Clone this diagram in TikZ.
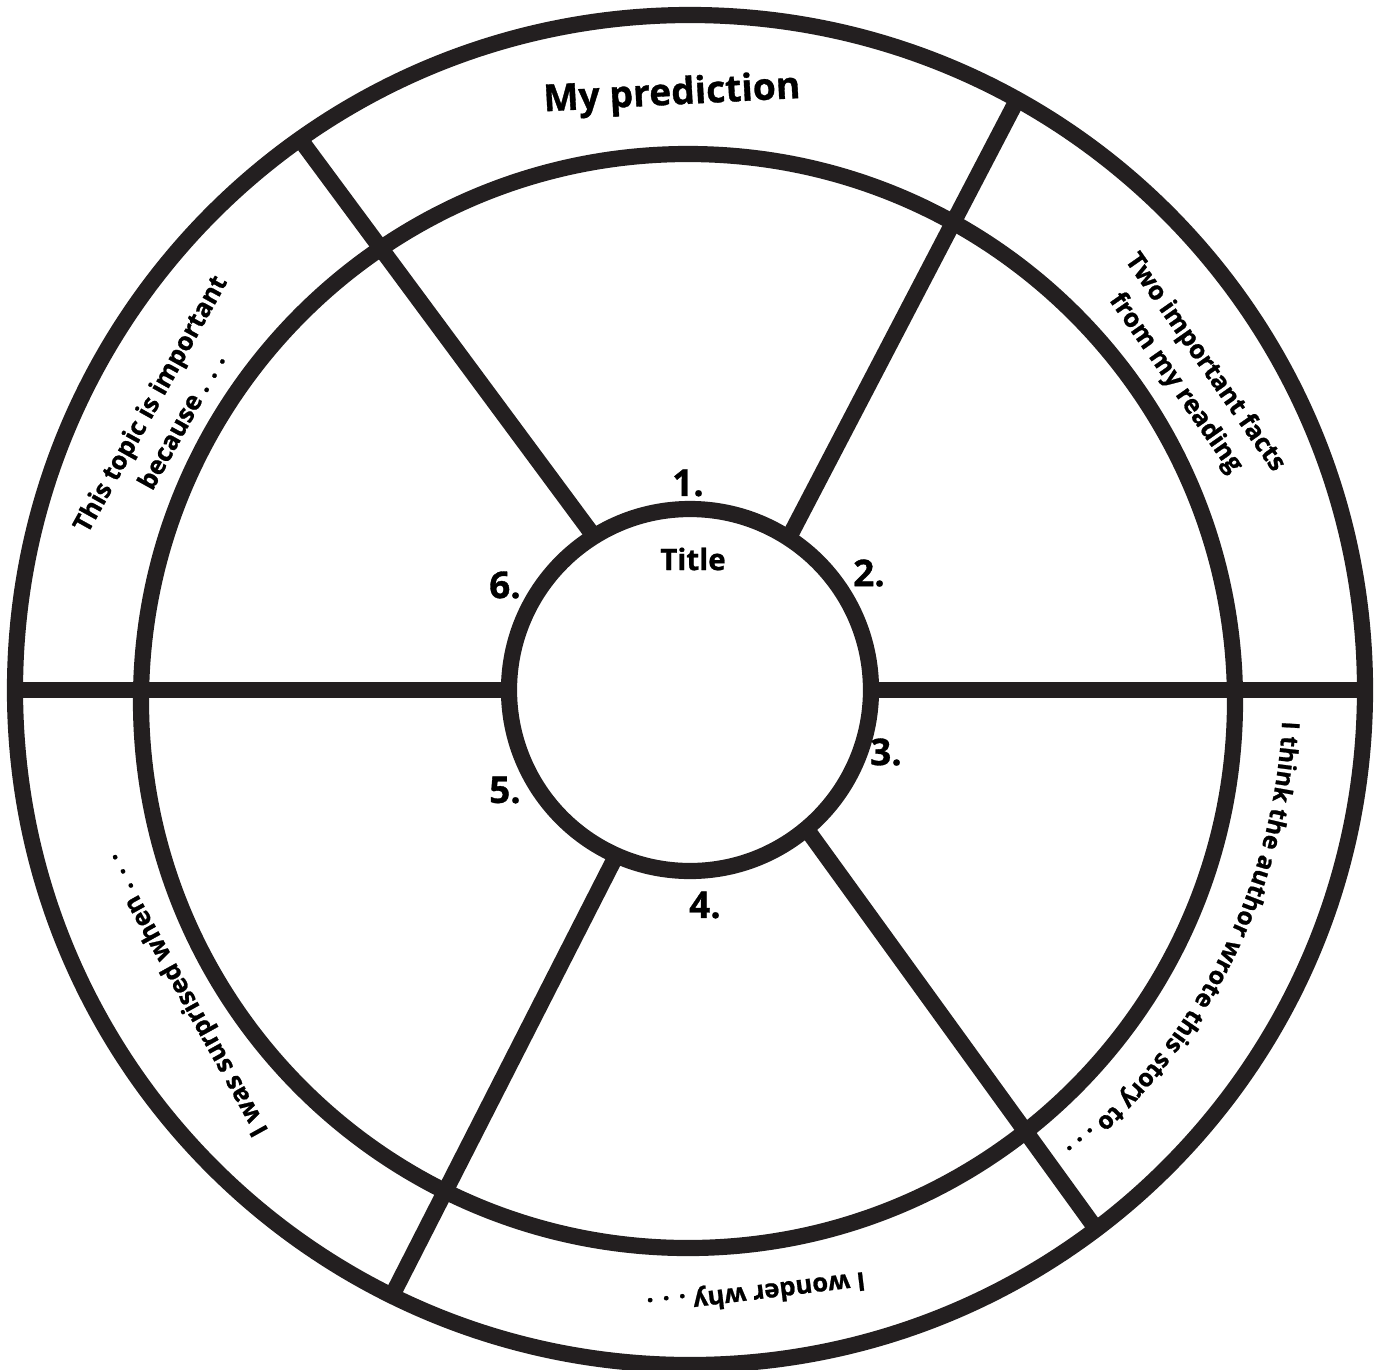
\documentclass[tikz,border=0pt]{standalone}
\usepackage{fontspec}
\setmainfont{Open Sans}[BoldFeatures={FakeBold=0.9}]
\usepackage{xcolor}
\usetikzlibrary{decorations.text}
\definecolor{ink}{HTML}{231F20}
\tikzset{
  ring/.style={draw=ink, line width=4.6pt},
  spoke/.style={draw=ink, line width=4.6pt},
  numtag/.style={font=\fontsize{10.5}{12}\selectfont\bfseries, inner sep=0pt},
  titletag/.style={font=\fontsize{8.4}{10}\selectfont\bfseries, inner sep=0pt},
  headtext/.style={font=\fontsize{10.6}{12}\selectfont\bfseries, inner sep=0pt},
  bandtext/.style={font=\fontsize{7.3}{10.2}\selectfont\bfseries,
                   align=center, inner sep=0pt},
}

\begin{document}
\begin{tikzpicture}[x=0.01cm, y=0.01cm]
\useasboundingbox (-690,-679) rectangle (696,690);

%% Radii (1 unit = 0.01cm)
\def\rOut{675}
\def\rMid{547}
\def\rIn{181}

\coordinate (hub) at (0,0);
\coordinate (midhub) at (-2,-11);

%% Rings
\draw[ring] (hub) circle[radius=\rOut];
\draw[ring] (midhub) circle[radius=\rMid];
\draw[ring] (hub) circle[radius=\rIn];

%% Spokes: angle at inner ring / angle at outer ring
\foreach \a/\b in {122/125.3, 57/61, 0/0, -50/-53, 246/243.8, 180/180}
  \draw[spoke] (\a:\rIn) -- (\b:\rOut);

%% Numbers round the hub
\node[numtag] (n1) at (-2,207)    {1.};
\node[numtag] (n2) at (179,117)   {2.};
\node[numtag] (n3) at (196,-62)   {3.};
\node[numtag] (n4) at (15,-215)   {4.};
\node[numtag] (n5) at (-185,-100) {5.};
\node[numtag] (n6) at (-185,105)  {6.};
\node[titletag] (title) at (3,131) {Title};

%% Outer band prompts
\node[headtext, rotate=3] (pred) at (-18,595) {My prediction};
\node[bandtext, rotate=-55] (facts) at (500,317)
     {Two important facts\\from my reading};
\node[bandtext, rotate=61] (topic) at (-525,278)
     {This topic is important\\because . . .};
\node[bandtext, rotate=187] (wonder) at (66,-602) {I wonder why . . .};
\node[bandtext, rotate=119] (surprised) at (-504,-305)
     {I was surprised when . . .};
\path[decorate, decoration={text along path, text align=left,
      text={|\fontsize{7.0}{9}\selectfont\bfseries|I think the author wrote this story to . . .}}]
     (-3:593) arc[start angle=-3, end angle=-58, radius=593];

\end{tikzpicture}
\end{document}
